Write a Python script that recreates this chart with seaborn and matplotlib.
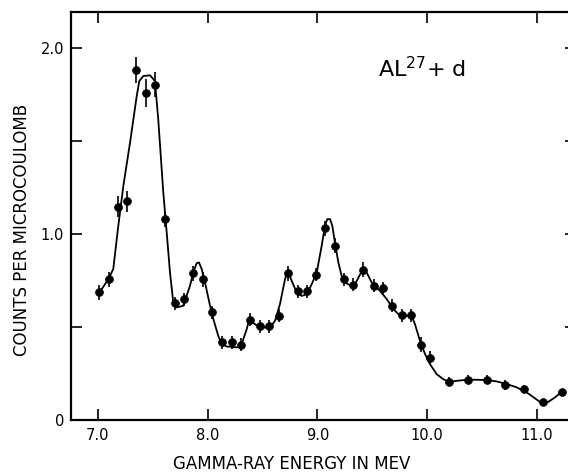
import matplotlib
matplotlib.use("Agg")
import matplotlib.pyplot as plt
import seaborn as sns
import numpy as np

# measured points (MeV, counts per microcoulomb) and their error bars
energy = [7.012, 7.097, 7.180, 7.264, 7.343, 7.437, 7.522, 7.610, 7.700, 7.787,
          7.870, 7.957, 8.040, 8.133, 8.218, 8.300, 8.385, 8.476, 8.560, 8.650,
          8.734, 8.820, 8.904, 8.986, 9.070, 9.160, 9.244, 9.326, 9.417, 9.515,
          9.594, 9.680, 9.767, 9.852, 9.940, 10.025, 10.195, 10.367, 10.540, 10.712,
          10.882, 11.055, 11.225]
counts = [0.687, 0.758, 1.149, 1.177, 1.885, 1.762, 1.805, 1.081, 0.629, 0.650,
          0.790, 0.758, 0.579, 0.418, 0.418, 0.405, 0.539, 0.504, 0.504, 0.561,
          0.790, 0.692, 0.692, 0.781, 1.031, 0.937, 0.758, 0.727, 0.808, 0.722,
          0.708, 0.615, 0.565, 0.565, 0.405, 0.335, 0.206, 0.217, 0.217, 0.189,
          0.167, 0.099, 0.149]
errors = [0.040, 0.040, 0.058, 0.058, 0.070, 0.075, 0.065, 0.040, 0.035, 0.035,
          0.040, 0.040, 0.035, 0.035, 0.035, 0.035, 0.035, 0.035, 0.035, 0.035,
          0.040, 0.035, 0.035, 0.035, 0.040, 0.040, 0.035, 0.035, 0.040, 0.035,
          0.035, 0.035, 0.035, 0.035, 0.040, 0.035, 0.025, 0.025, 0.025, 0.025,
          0.020, 0.000, 0.000]

# hand-drawn fitted curve
fit_energy = [7.003, 7.094, 7.139, 7.185, 7.231, 7.292, 7.353, 7.376, 7.413, 7.474,
              7.519, 7.549, 7.595, 7.626, 7.656, 7.686, 7.717, 7.777, 7.838, 7.868,
              7.899, 7.920, 7.945, 7.975, 8.021, 8.051, 8.096, 8.127, 8.173, 8.264,
              8.309, 8.355, 8.379, 8.415, 8.476, 8.567, 8.613, 8.658, 8.704, 8.728,
              8.765, 8.810, 8.856, 8.902, 8.947, 8.993, 9.038, 9.068, 9.089, 9.114,
              9.135, 9.159, 9.190, 9.220, 9.251, 9.296, 9.342, 9.381, 9.417, 9.448,
              9.494, 9.569, 9.631, 9.691, 9.752, 9.813, 9.858, 9.888, 9.934, 9.980,
              10.025, 10.086, 10.146, 10.192, 10.268, 10.360, 10.451, 10.542, 10.633, 10.724,
              10.815, 10.906, 10.982, 11.043, 11.103, 11.164, 11.225]
fit_counts = [0.677, 0.758, 0.812, 1.045, 1.260, 1.493, 1.744, 1.824, 1.851, 1.855,
              1.824, 1.618, 1.224, 1.009, 0.794, 0.633, 0.606, 0.615, 0.722, 0.794,
              0.844, 0.848, 0.812, 0.740, 0.615, 0.543, 0.453, 0.409, 0.396, 0.391,
              0.409, 0.489, 0.543, 0.522, 0.498, 0.498, 0.534, 0.624, 0.758, 0.803,
              0.749, 0.687, 0.668, 0.677, 0.731, 0.794, 0.937, 1.045, 1.081, 1.081,
              1.045, 0.955, 0.848, 0.776, 0.740, 0.726, 0.731, 0.776, 0.812, 0.794,
              0.740, 0.695, 0.651, 0.597, 0.561, 0.561, 0.561, 0.516, 0.426, 0.355,
              0.301, 0.247, 0.220, 0.206, 0.211, 0.217, 0.217, 0.215, 0.208, 0.194,
              0.176, 0.149, 0.117, 0.091, 0.098, 0.122, 0.152]

x_ticks = [7.0, 8.0, 9.0, 10.0, 11.0]
x_tick_labels = ["7.0", "8.0", "9.0", "10.0", "11.0"]
y_ticks = [0.0, 0.5, 1.0, 1.5, 2.0]
y_tick_labels = ["0", "", "1.0", "", "2.0"]

sns.set_theme(style="ticks")
plt.rcParams["font.family"] = ["DejaVu Sans"]

fig = plt.figure(figsize=(5.68, 4.72), dpi=100)
fig.patch.set_facecolor("white")
ax = fig.add_axes([0.125, 0.110, 0.889, 0.8644])
ax.set_facecolor("white")

sns.lineplot(x=fit_energy, y=fit_counts, sort=False, estimator=None,
             color="black", linewidth=1.3, ax=ax, zorder=2)
ax.errorbar(energy, counts, yerr=errors, fmt="none", ecolor="black",
            elinewidth=1.2, capsize=0, zorder=3)
sns.scatterplot(x=energy, y=counts, color="black", s=32, edgecolor="black",
                linewidth=0.5, ax=ax, zorder=4)

ax.set_xlim(6.754, 11.355)
ax.set_ylim(0.0, 2.195)
ax.set_xticks(x_ticks)
ax.set_xticklabels(x_tick_labels)
ax.set_yticks(y_ticks)
ax.set_yticklabels(y_tick_labels)

ax.tick_params(axis="both", which="both", direction="in", length=8, width=1.2,
               top=True, right=True, colors="black", labelsize=10.5)
ax.tick_params(axis="x", pad=6)
ax.tick_params(axis="y", pad=5)
for sp in ax.spines.values():
    sp.set_linewidth(1.6)
    sp.set_color("black")
    sp.set_visible(True)

ax.set_xlabel("GAMMA-RAY ENERGY IN MEV", fontsize=12, color="black")
ax.set_ylabel("COUNTS PER MICROCOULOMB", fontsize=12, color="black")
ax.xaxis.set_label_coords(0.4376, -0.086)
ax.yaxis.set_label_coords(-0.080, 0.466)

ax.text(9.551, 1.844, "AL$^{27}$+ d", fontsize=16, color="black",
        ha="left", va="baseline")

fig.savefig("out.png", dpi=100)
